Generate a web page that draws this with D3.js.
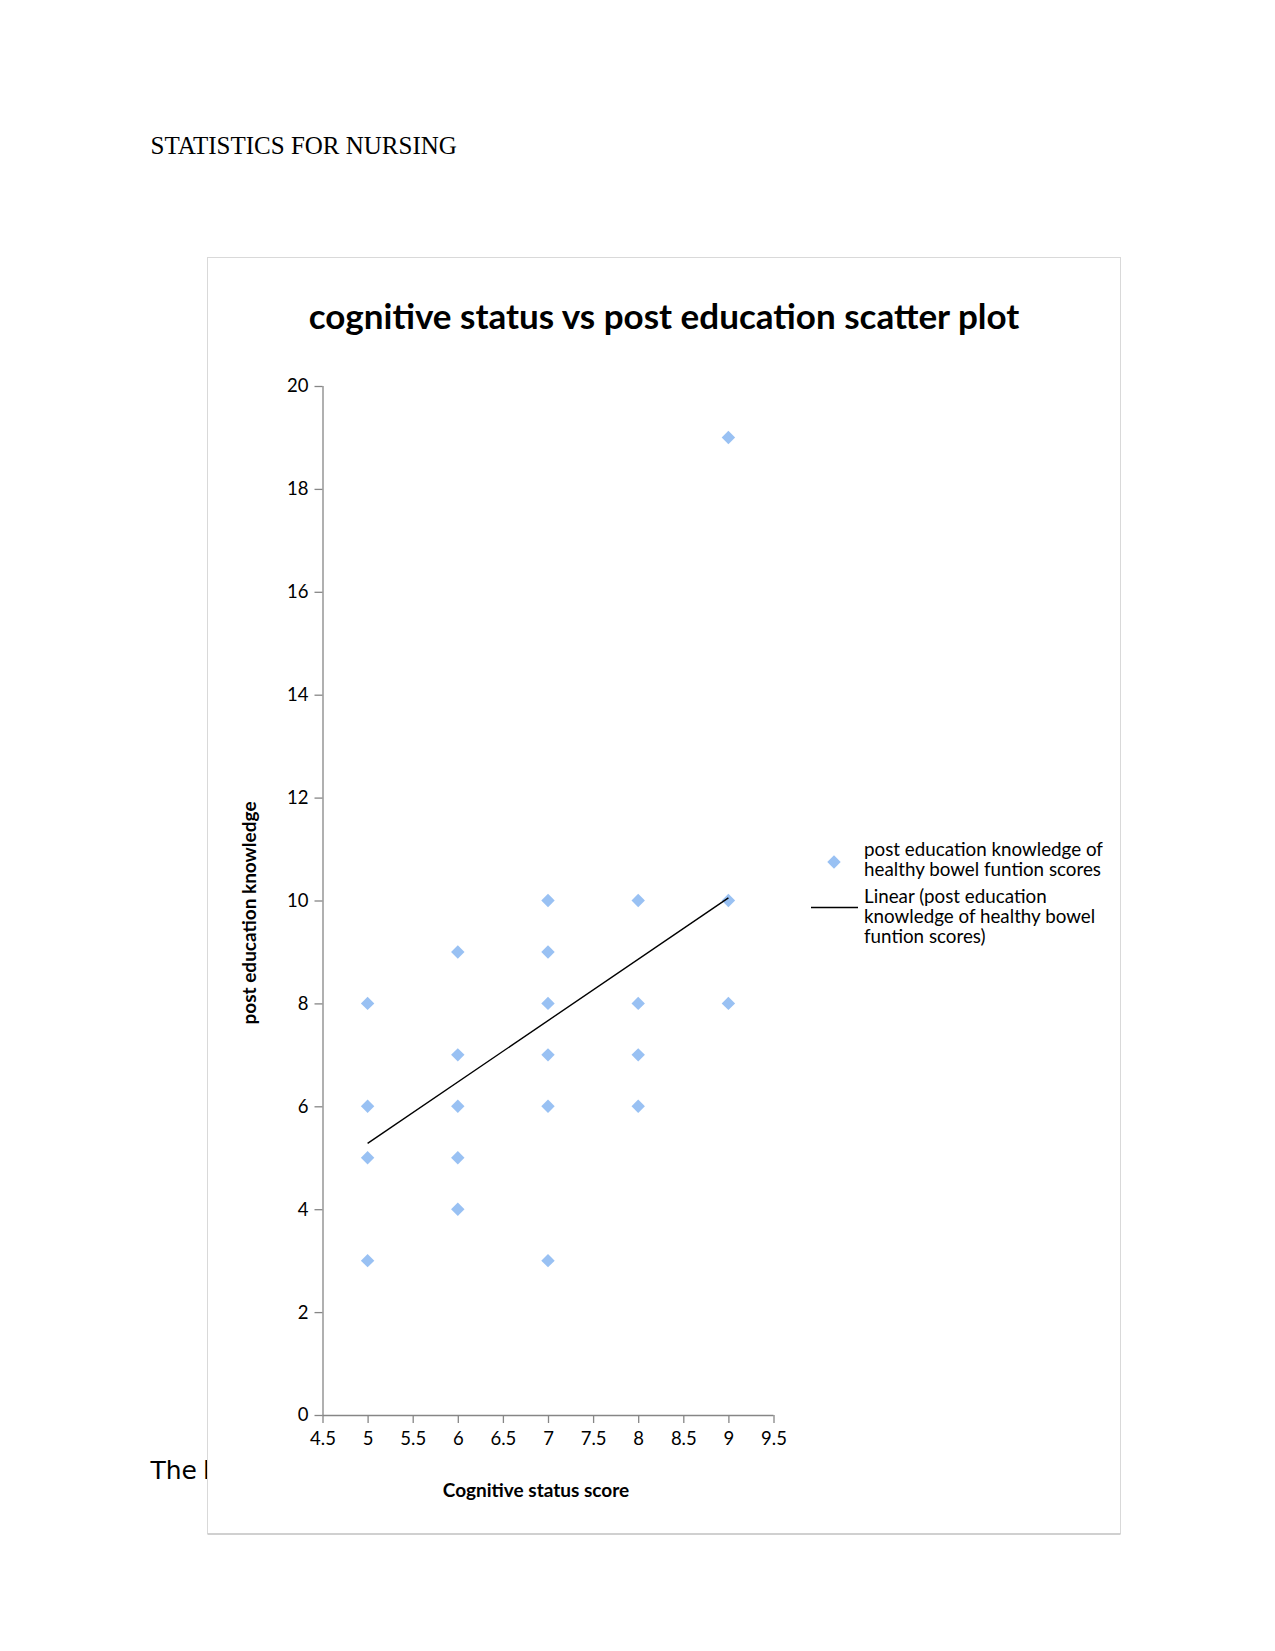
<!DOCTYPE html>
<html>
<head>
<meta charset="utf-8">
<script src="https://cdn.jsdelivr.net/npm/d3@7"></script>
<style>
  body { margin: 0; background: #fff; }
  svg { display: block; }
</style>
</head>
<body>
<div id="page"></div>
<script>
// data
var cognitive = [5, 5, 5, 5, 6, 6, 6, 6, 6, 7, 7, 7, 7, 7, 7, 8, 8, 8, 8, 9, 9, 9];
var knowledge = [8, 6, 5, 3, 9, 7, 6, 5, 4, 10, 9, 8, 7, 6, 3, 10, 8, 7, 6, 19, 10, 8];
// linear trend line as drawn (start / end)
var trendX = [5, 9];
var trendY = [5.28, 10.05];

var xTicks = [4.5, 5, 5.5, 6, 6.5, 7, 7.5, 8, 8.5, 9, 9.5];
var yTicks = [0, 2, 4, 6, 8, 10, 12, 14, 16, 18, 20];

var legendLabels = [
  ["post education knowledge of", "healthy bowel funtion scores"],
  ["Linear (post education", "knowledge of healthy bowel", "funtion scores)"]
];

var W = 1275, H = 1651;
var chartFont = "Lato, 'Open Sans', sans-serif";
var markerColor = "#99c1f3";
var axisColor = "#868686";

var svg = d3.select("#page").append("svg")
  .attr("width", W)
  .attr("height", H);

// document text behind the chart
svg.append("text")
  .attr("x", 150.5).attr("y", 153.5)
  .attr("font-family", "'Liberation Serif', 'Times New Roman', serif")
  .attr("font-size", 25)
  .attr("fill", "#000")
  .text("STATISTICS FOR NURSING");

var para = svg.append("text")
  .attr("x", 150.5).attr("y", 1479)
  .attr("font-family", "'DejaVu Sans', sans-serif")
  .attr("font-size", 25)
  .attr("fill", "#000");
para.append("tspan").text("The");
para.append("tspan").attr("dx", 6).text("linear");

// chart box
var box = { x: 207.5, y: 257.5, w: 913, h: 1276 };
svg.append("rect")
  .attr("x", box.x).attr("y", box.y)
  .attr("width", box.w).attr("height", box.h)
  .attr("fill", "#fff")
  .attr("stroke", "#d9d9d9")
  .attr("stroke-width", 1);
svg.append("line")
  .attr("x1", box.x).attr("x2", box.x + box.w)
  .attr("y1", box.y + box.h + 0.5).attr("y2", box.y + box.h + 0.5)
  .attr("stroke", "#d0d0d0")
  .attr("stroke-width", 2);

// title
svg.append("text")
  .attr("x", 664).attr("y", 328.5)
  .attr("text-anchor", "middle")
  .attr("font-family", chartFont)
  .attr("font-weight", "bold")
  .attr("font-size", 35)
  .attr("fill", "#000")
  .text("cognitive status vs post education scatter plot");

// scales
var x = d3.scaleLinear().domain([4.5, 9.5]).range([322.5, 773.5]);
var y = d3.scaleLinear().domain([0, 20]).range([1415, 386]);

// axes
var yAxis = svg.append("g")
  .attr("transform", "translate(" + x(4.5) + ",0)")
  .call(d3.axisLeft(y).tickValues(yTicks).tickSize(8).tickPadding(6)
    .tickFormat(d3.format("d")));
var xAxis = svg.append("g")
  .attr("transform", "translate(0," + y(0) + ")")
  .call(d3.axisBottom(x).tickValues(xTicks).tickSize(8).tickPadding(9)
    .tickFormat(function (d) { return String(d); }));

[xAxis, yAxis].forEach(function (g) {
  g.selectAll("path, line").attr("stroke", axisColor).attr("stroke-width", 1.3);
  g.selectAll("text")
    .attr("font-family", chartFont)
    .attr("font-size", 18.5)
    .attr("fill", "#000");
});
xAxis.select(".domain").attr("d", "M" + x(4.5) + ",0.5H" + x(9.5));
yAxis.select(".domain").attr("d", "M0.5," + y(0) + "V" + y(20));

// axis titles
svg.append("text")
  .attr("transform", "translate(251,913) rotate(-90)")
  .attr("text-anchor", "middle")
  .attr("dominant-baseline", "middle")
  .attr("font-family", chartFont)
  .attr("font-weight", "bold")
  .attr("font-size", 19)
  .attr("fill", "#000")
  .text("post education knowledge");

svg.append("text")
  .attr("x", 536).attr("y", 1497)
  .attr("text-anchor", "middle")
  .attr("font-family", chartFont)
  .attr("font-weight", "bold")
  .attr("font-size", 19)
  .attr("fill", "#000")
  .text("Cognitive status score");

// points (square turned 45 degrees = Excel diamond)
var diamond = d3.symbol().type(d3.symbolSquare).size(90);
svg.append("g")
  .selectAll("path")
  .data(cognitive)
  .enter().append("path")
  .attr("d", diamond)
  .attr("transform", function (d, i) {
    return "translate(" + x(d) + "," + y(knowledge[i]) + ") rotate(45)";
  })
  .attr("fill", markerColor);

// trend line
svg.append("path")
  .datum(trendX)
  .attr("fill", "none")
  .attr("stroke", "#000")
  .attr("stroke-width", 1.4)
  .attr("d", d3.line()
    .x(function (d) { return x(d); })
    .y(function (d, i) { return y(trendY[i]); }));

// legend
var legend = svg.append("g").attr("font-family", chartFont).attr("font-size", 18.8);
legend.append("path")
  .attr("d", diamond)
  .attr("transform", "translate(834,862) rotate(45)")
  .attr("fill", markerColor);
legend.append("line")
  .attr("x1", 811).attr("x2", 858)
  .attr("y1", 907.5).attr("y2", 907.5)
  .attr("stroke", "#000")
  .attr("stroke-width", 1.6);

var lineStart = [856, 903];
legendLabels.forEach(function (lines, k) {
  var t = legend.append("text")
    .attr("x", 864)
    .attr("y", lineStart[k])
    .attr("fill", "#000");
  lines.forEach(function (s, j) {
    t.append("tspan")
      .attr("x", 864)
      .attr("dy", j === 0 ? 0 : 20)
      .text(s);
  });
});
</script>
</body>
</html>
